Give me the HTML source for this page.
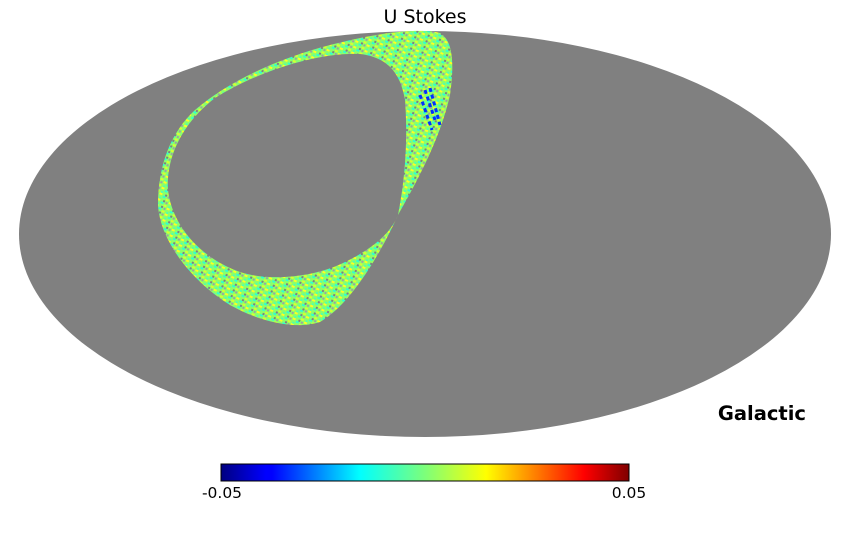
<!DOCTYPE html>
<html><head><meta charset="utf-8"><style>
html,body{margin:0;padding:0;background:#fff;}
svg{display:block;font-family:"DejaVu Sans",sans-serif;}
</style></head><body>
<svg width="850" height="540" viewBox="0 0 850 540" xmlns="http://www.w3.org/2000/svg">
<defs>
<linearGradient id="jet" x1="0" x2="1" y1="0" y2="0">
<stop offset="0" stop-color="#00007f"/>
<stop offset="0.11" stop-color="#0000ff"/>
<stop offset="0.125" stop-color="#0000ff"/>
<stop offset="0.34" stop-color="#00ffff"/>
<stop offset="0.5" stop-color="#7dff7a"/>
<stop offset="0.65" stop-color="#ffff00"/>
<stop offset="0.89" stop-color="#ff0000"/>
<stop offset="1" stop-color="#7f0000"/>
</linearGradient>
<pattern id="noise" width="12" height="6" patternUnits="userSpaceOnUse" patternTransform="rotate(20)">
<rect width="12" height="6" fill="#8cff6a"/>
<rect x="0" y="0" width="3" height="2" fill="#ffff20"/>
<rect x="4" y="2" width="3" height="2" fill="#30ffd0"/>
<rect x="8" y="4" width="3" height="2" fill="#d8ff30"/>
<rect x="6" y="0" width="2" height="2" fill="#808080"/>
<rect x="1" y="4" width="2" height="2" fill="#50ffb0"/>
<rect x="9" y="1" width="2" height="2" fill="#a0a0a0"/>
</pattern>
</defs>
<text x="425" y="23" font-size="19" text-anchor="middle" fill="#000">U Stokes</text>
<ellipse cx="425" cy="234" rx="406" ry="203" fill="#808080"/>
<path fill="url(#noise)" fill-rule="evenodd" d="
M398,215 C415,185 440,140 450,95 C455,60 452,40 440,33 C420,28 380,32 330,45 C280,58 230,80 195,110 C168,135 158,170 158,205 C160,240 190,280 230,305 C260,322 295,330 320,322 C350,305 380,255 398,215 Z
M398,215 C405,180 408,140 405,100 C400,70 385,57 360,54 C320,52 260,70 215,98 C180,125 166,160 168,190 C172,225 200,258 240,272 C275,283 320,275 345,262 C370,250 390,235 398,215 Z"/>
<path d="M425,90 L435,120 M430,88 L440,125 M420,95 L432,130" stroke="#0030ff" stroke-width="3" stroke-dasharray="4 3" fill="none"/>
<rect x="221" y="464" width="408" height="17" fill="url(#jet)" stroke="#000" stroke-width="1"/>
<text x="222" y="498" font-size="15.5" text-anchor="middle" fill="#000">-0.05</text>
<text x="629" y="498" font-size="15.5" text-anchor="middle" fill="#000">0.05</text>
<text x="806" y="420" font-size="19.5" font-weight="bold" text-anchor="end" fill="#000">Galactic</text>
</svg>
</body></html>
